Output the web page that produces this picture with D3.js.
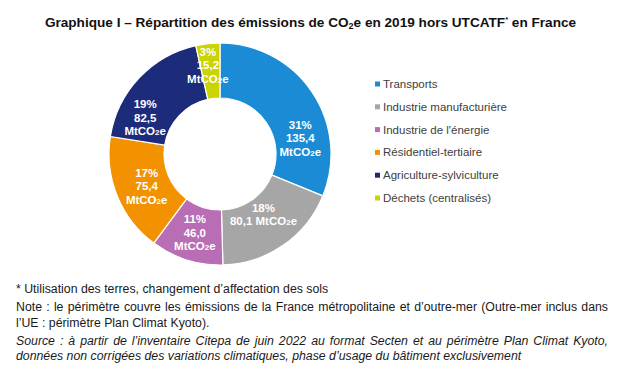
<!DOCTYPE html>
<html><head><meta charset="utf-8">
<script src="https://cdn.jsdelivr.net/npm/d3@7"></script>
<style>
body{margin:0;background:#fff;}
svg{display:block;font-family:Arial,"Liberation Sans",sans-serif;}
</style></head>
<body><svg id="c" width="620" height="386"></svg>
<script>
const categories = ["Transports","Industrie manufacturière","Industrie de l'énergie","Résidentiel-tertiaire","Agriculture-sylviculture","Déchets (centralisés)"];
const values = [135.4, 80.1, 46.0, 75.4, 82.5, 15.2];
const colors = ["#1a8bd4","#a6a6a6","#b86db5","#f39200","#1d2b7b","#c9d400"];
const labelLines = [3, 2, 3, 3, 3, 3];
const labelNudge = [[11,31],[-4,-8],[0,-1],[4,1],[-14,21],[-3,-6]];
const footLines = [
  {t:"* Utilisation des terres, changement d’affectation des sols", i:false, j:false},
  {t:"Note : le périmètre couvre les émissions de la France métropolitaine et d’outre-mer (Outre-mer inclus dans", i:false, j:true},
  {t:"l’UE : périmètre Plan Climat Kyoto).", i:false, j:false},
  {t:"Source : à partir de l’inventaire Citepa de juin 2022 au format Secten et au périmètre Plan Climat Kyoto,", i:true, j:true},
  {t:"données non corrigées des variations climatiques, phase d’usage du bâtiment exclusivement", i:true, j:false}
];

const svg = d3.select("#c");
svg.append("rect").attr("width",620).attr("height",386).attr("fill","#fff");

// Title
const title = svg.append("text").attr("x",310.5).attr("y",26.5).attr("text-anchor","middle")
  .attr("font-size",13.6).attr("font-weight","bold").attr("fill","#111");
title.append("tspan").text("Graphique I – Répartition des émissions de CO");
title.append("tspan").attr("font-size",9).attr("dy",2.5).text("2");
title.append("tspan").attr("dy",-2.5).text("e en 2019 hors UTCATF");
title.append("tspan").attr("font-size",7.5).attr("dy",-4.5).text("*");
title.append("tspan").attr("dy",4.5).text(" en France");

// Donut
const cx = 220, cy = 154, rOut = 111, rIn = 56;
const total = d3.sum(values);
const pie = d3.pie().sort(null).value(d => d)(values);
const arc = d3.arc().innerRadius(rIn).outerRadius(rOut);
const g = svg.append("g").attr("transform",`translate(${cx},${cy})`);
g.selectAll("path").data(pie).join("path")
  .attr("d",arc).attr("fill",(d,i)=>colors[i]).attr("stroke","#fff").attr("stroke-width",1.2);

const fmt = v => d3.format(".1f")(v).replace(".",",");
function mt(sel){
  sel.append("tspan").text("MtCO");
  sel.append("tspan").attr("font-size",8).text("2");
  sel.append("tspan").text("e");
}
const lh = 13.5;
function lbl(x,y){
  return g.append("text").attr("text-anchor","middle").attr("font-size",11.5)
    .attr("font-weight","bold").attr("fill","#fff").attr("x",x).attr("y",y);
}
pie.forEach((d,i)=>{
  const c = arc.centroid(d);
  const x = c[0]+labelNudge[i][0], y = c[1]+labelNudge[i][1];
  const n = labelLines[i];
  const pct = Math.round(values[i]/total*100)+"%";
  const y0 = y - (n-1)*lh/2 + 4;
  lbl(x,y0).text(pct);
  if(n===3){
    lbl(x,y0+lh).text(fmt(values[i]));
    mt(lbl(x,y0+2*lh));
  } else {
    const tt = lbl(x,y0+lh);
    tt.append("tspan").text(fmt(values[i])+" ");
    mt(tt);
  }
});

// Legend
const lg = svg.append("g").attr("transform","translate(375,84)");
const ly = d3.scalePoint().domain(categories).range([0,114]);
categories.forEach((c,i)=>{
  lg.append("rect").attr("x",0).attr("y",ly(c)-2.5).attr("width",5).attr("height",5).attr("fill",colors[i]);
  lg.append("text").attr("x",8).attr("y",ly(c)+4).attr("font-size",11.5).attr("fill","#404040").text(c);
});

// Footnotes
const fy = [293, 311, 326.5, 345, 360];
const fx0 = 16, fx1 = 608;
footLines.forEach((f,i)=>{
  const t = svg.append("text").attr("x",fx0).attr("y",fy[i]).attr("font-size",12.3)
    .attr("fill","#1a1a1a").attr("font-style",f.i?"italic":"normal").text(f.t);
  if(f.j){
    const w = t.node().getComputedTextLength();
    const spaces = (f.t.match(/ /g)||[]).length;
    t.attr("word-spacing",(fx1-fx0-w)/spaces);
  }
});
</script></body></html>
